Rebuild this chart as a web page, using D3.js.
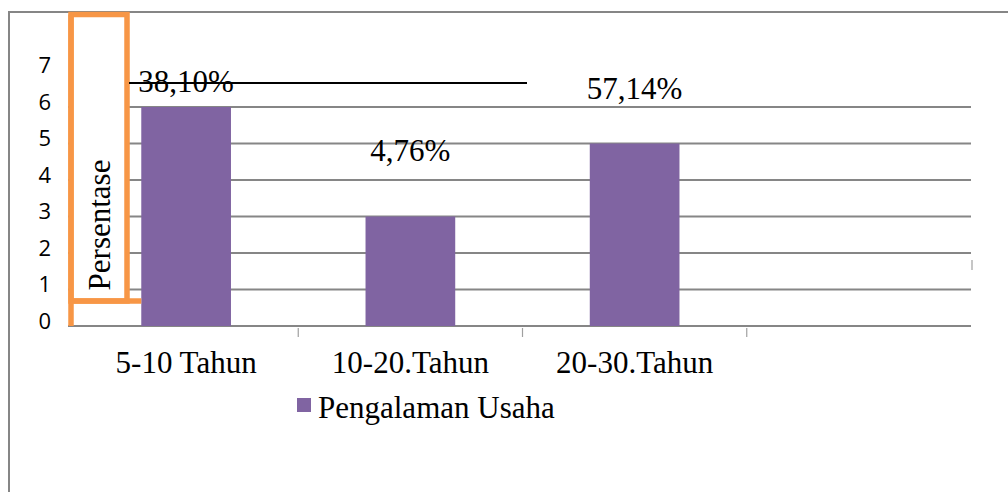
<!DOCTYPE html>
<html>
<head>
<meta charset="utf-8">
<script src="https://cdn.jsdelivr.net/npm/d3@7"></script>
<style>
body { margin: 0; background: #fff; }
</style>
</head>
<body>
<div id="chart"></div>
<script>
(function(d3) {
'use strict';

var categories = ['5-10 Tahun', '10-20.Tahun', '20-30.Tahun'];
var values = [6, 3, 5];
var valueLabels = ['38,10%', '4,76%', '57,14%'];
var yTicks = [0, 1, 2, 3, 4, 5, 6, 7];
var seriesName = 'Pengalaman Usaha';
var axisTitle = 'Persentase';

var width = 1008;
var height = 492;
var plotLeft = 74, plotRight = 971, plotTop = 107, plotBottom = 326;
var slots = 4;
var labelLift = [15, 56, 45];
var purple = '#8064A2';
var orange = '#F79646';
var grey = '#868686';
var serif = '"Liberation Serif", "Times New Roman", serif';

var x = d3.scaleBand()
	.domain(categories)
	.range([plotLeft, plotLeft + (plotRight - plotLeft) * categories.length / slots]);

var y = d3.scaleLinear()
	.domain([0, 6])
	.range([plotBottom, plotTop]);

var svg = d3.select('#chart')
	.append('svg')
	.attr('width', width)
	.attr('height', height);

// outer frame (only left and top visible)
svg.append('path')
	.attr('d', 'M9,' + height + 'V12H' + width)
	.attr('fill', 'none')
	.attr('stroke', grey)
	.attr('stroke-width', 2);

// gridlines
svg.append('g')
	.selectAll('line')
	.data(d3.range(1, 7))
	.enter().append('line')
	.attr('x1', plotLeft - 6)
	.attr('x2', plotRight)
	.attr('y1', function(d) { return y(d); })
	.attr('y2', function(d) { return y(d); })
	.attr('stroke', grey)
	.attr('stroke-width', 2);

// baseline
svg.append('line')
	.attr('x1', plotLeft - 6)
	.attr('x2', plotRight)
	.attr('y1', y(0))
	.attr('y2', y(0))
	.attr('stroke', grey)
	.attr('stroke-width', 2);

// category ticks
svg.append('g')
	.selectAll('line')
	.data(categories)
	.enter().append('line')
	.attr('x1', function(d) { return x(d) + x.bandwidth(); })
	.attr('x2', function(d) { return x(d) + x.bandwidth(); })
	.attr('y1', y(0) + 2)
	.attr('y2', y(0) + 11)
	.attr('stroke', '#a0a0a0')
	.attr('stroke-width', 1.2);

svg.append('line')
	.attr('x1', plotRight + 1)
	.attr('x2', plotRight + 1)
	.attr('y1', 260)
	.attr('y2', 270)
	.attr('stroke', '#a0a0a0')
	.attr('stroke-width', 1.2);

// bars
var barW = x.bandwidth() * 0.4;
svg.append('g')
	.selectAll('rect')
	.data(values)
	.enter().append('rect')
	.attr('x', function(d, i) { return x(categories[i]) + (x.bandwidth() - barW) / 2; })
	.attr('y', function(d) { return y(d); })
	.attr('width', barW)
	.attr('height', function(d) { return y(0) - y(d); })
	.attr('fill', purple);

// y tick labels
var yAxis = d3.axisLeft(y)
	.tickValues(yTicks)
	.tickFormat(d3.format('d'))
	.tickSize(0)
	.tickPadding(plotLeft - 51);

var ya = svg.append('g')
	.attr('transform', 'translate(' + plotLeft + ',0)')
	.call(yAxis);
ya.select('.domain').remove();
ya.selectAll('text')
	.attr('dy', '0.32em')
	.attr('y', -5)
	.style('font-family', '"Open Sans", "Noto Sans", sans-serif')
	.style('font-size', '22px')
	.attr('fill', '#000');

// orange title box
svg.append('rect')
	.attr('x', 71)
	.attr('y', 14.5)
	.attr('width', 56)
	.attr('height', 286.5)
	.attr('fill', '#fff')
	.attr('stroke', orange)
	.attr('stroke-width', 5.5);

svg.append('path')
	.attr('d', 'M71,14.5V' + y(0) + 'M71,301H' + (x(categories[0]) + (x.bandwidth() - barW) / 2))
	.attr('fill', 'none')
	.attr('stroke', orange)
	.attr('stroke-width', 5.5);

svg.append('text')
	.attr('transform', 'translate(110,225) rotate(-90)')
	.attr('text-anchor', 'middle')
	.style('font-family', serif)
	.style('font-size', '31px')
	.text(axisTitle);

// value labels
svg.append('g')
	.selectAll('text')
	.data(valueLabels)
	.enter().append('text')
	.attr('x', function(d, i) { return x(categories[i]) + x.bandwidth() / 2; })
	.attr('y', function(d, i) { return y(values[i]) - labelLift[i]; })
	.attr('text-anchor', 'middle')
	.style('font-family', serif)
	.style('font-size', '31px')
	.text(function(d) { return d; });

// stray black rule
svg.append('line')
	.attr('x1', 129)
	.attr('x2', 527)
	.attr('y1', 83)
	.attr('y2', 83)
	.attr('stroke', '#000')
	.attr('stroke-width', 2);

// category labels
svg.append('g')
	.selectAll('text')
	.data(categories)
	.enter().append('text')
	.attr('x', function(d) { return x(d) + x.bandwidth() / 2; })
	.attr('y', y(0) + 47)
	.attr('text-anchor', 'middle')
	.style('font-family', serif)
	.style('font-size', '31px')
	.text(function(d) { return d; });

// legend
var legend = svg.append('g')
	.attr('transform', 'translate(297,398)');
legend.append('rect')
	.attr('width', 14)
	.attr('height', 14)
	.attr('fill', purple);
legend.append('text')
	.attr('x', 21)
	.attr('y', 20)
	.style('font-family', serif)
	.style('font-size', '31px')
	.text(seriesName);

})(window.d3);
</script>
</body>
</html>
